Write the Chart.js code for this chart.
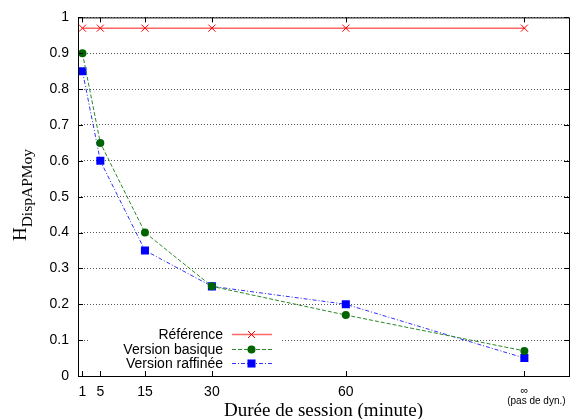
<!DOCTYPE html>
<html>
<head>
<meta charset="utf-8">
<script src="https://cdn.jsdelivr.net/npm/chart.js@4/dist/chart.umd.min.js"></script>
<style>
  html, body { margin: 0; padding: 0; background: #fff; overflow: hidden; }
  #wrap { width: 575px; height: 419px; }
</style>
</head>
<body>
<div id="wrap"><canvas id="chart" width="575" height="419"></canvas></div>
<script>
// session durations (100 stands for "no dynamics", drawn as ∞)
const durations = [1, 5, 15, 30, 60, 100];
const durationLabels = ['1', '5', '15', '30', '60', '∞'];
const reference = [0.97, 0.97, 0.97, 0.97, 0.97, 0.97];
const basique = [0.90, 0.65, 0.40, 0.25, 0.17, 0.07];
const raffinee = [0.85, 0.60, 0.35, 0.25, 0.20, 0.05];
const yTicks = [0, 0.1, 0.2, 0.3, 0.4, 0.5, 0.6, 0.7, 0.8, 0.9, 1];

const SANS = '"Liberation Sans", Arial, sans-serif';
const SERIF = '"Liberation Serif", "Times New Roman", serif';

const COLORS = {
  reference: '#ff0000',
  referenceLine: 'rgba(255, 0, 0, 0.6)',
  basique: '#006400',
  basiqueLine: '#2a882a',
  raffinee: '#0000ff',
  raffineeLine: '#3030ff',
  grid: '#555555',
  frame: '#000000'
};

function points(ys) {
  return durations.map((x, i) => ({ x, y: ys[i] }));
}

// gnuplot style frame with inward ticks on all sides
const framePlugin = {
  id: 'frame',
  afterDraw(chart) {
    const { ctx, chartArea: a, scales } = chart;
    ctx.save();
    ctx.strokeStyle = COLORS.frame;
    ctx.lineWidth = 1;
    ctx.strokeRect(a.left + 0.5, a.top + 0.5, a.right - a.left, a.bottom - a.top);
    ctx.beginPath();
    const len = 5;
    durations.forEach(v => {
      const px = Math.round(scales.x.getPixelForValue(v)) + 0.5;
      ctx.moveTo(px, a.bottom); ctx.lineTo(px, a.bottom - len);
      ctx.moveTo(px, a.top); ctx.lineTo(px, a.top + len);
    });
    yTicks.forEach(v => {
      const py = Math.round(scales.y.getPixelForValue(v)) + 0.5;
      ctx.moveTo(a.left, py); ctx.lineTo(a.left + len, py);
      ctx.moveTo(a.right, py); ctx.lineTo(a.right - len, py);
    });
    ctx.stroke();

    // note under the ∞ tick
    ctx.fillStyle = '#000';
    ctx.font = '10px ' + SANS;
    ctx.textAlign = 'center';
    ctx.textBaseline = 'alphabetic';
    ctx.fillText('(pas de dyn.)', scales.x.getPixelForValue(100) + 12, 404);

    // y title with subscript
    const main = 'H', sub = 'DispAPMoy';
    ctx.font = '19px ' + SERIF;
    const wMain = ctx.measureText(main).width;
    ctx.font = '15.5px ' + SERIF;
    const wSub = ctx.measureText(sub).width;
    ctx.translate(0, 195);
    ctx.rotate(-Math.PI / 2);
    ctx.textAlign = 'left';
    const start = -(wMain + wSub) / 2;
    ctx.font = '19px ' + SERIF;
    ctx.fillText(main, start, 26);
    ctx.font = '15.5px ' + SERIF;
    ctx.fillText(sub, start + wMain, 31.5);
    ctx.restore();
  }
};

// legend box in the lower left corner, text before the sample
const legendPlugin = {
  id: 'boxLegend',
  afterDatasetsDraw(chart) {
    const ctx = chart.ctx;
    const rows = [334, 349, 363];
    ctx.save();
    ctx.fillStyle = '#fff';
    ctx.fillRect(88, 326, 192, 44);
    chart.data.datasets.forEach((ds, i) => {
      const y = rows[i];
      ctx.fillStyle = '#000';
      ctx.font = '14px ' + SANS;
      ctx.textAlign = 'right';
      ctx.textBaseline = 'middle';
      ctx.fillText(ds.label, 223, y + 1);
      ctx.strokeStyle = ds.borderColor;
      ctx.lineWidth = ds.borderWidth;
      ctx.setLineDash(ds.borderDash || []);
      ctx.beginPath();
      ctx.moveTo(232, y + 0.5);
      ctx.lineTo(272, y + 0.5);
      ctx.stroke();
      ctx.setLineDash([]);
      ctx.fillStyle = ds.pointBackgroundColor;
      ctx.strokeStyle = ds.pointBorderColor;
      ctx.lineWidth = ds.pointBorderWidth;
      Chart.helpers.drawPoint(ctx, {
        pointStyle: ds.pointStyle,
        radius: ds.pointRadius,
        rotation: 0,
        borderWidth: ds.pointBorderWidth
      }, 251.5, y + 0.5);
    });
    ctx.restore();
  }
};

new Chart(document.getElementById('chart'), {
  type: 'line',
  data: {
    datasets: [
      {
        label: 'Référence',
        data: points(reference),
        borderColor: COLORS.referenceLine,
        borderWidth: 1.5,
        pointStyle: 'crossRot',
        pointRadius: 5,
        pointBorderWidth: 1,
        pointBackgroundColor: COLORS.reference,
        pointBorderColor: COLORS.reference
      },
      {
        label: 'Version basique',
        data: points(basique),
        borderColor: COLORS.basiqueLine,
        borderWidth: 1,
        borderDash: [4, 2],
        pointStyle: 'circle',
        pointRadius: 4,
        pointBorderWidth: 0,
        pointBackgroundColor: COLORS.basique,
        pointBorderColor: COLORS.basique
      },
      {
        label: 'Version raffinée',
        data: points(raffinee),
        borderColor: COLORS.raffineeLine,
        borderWidth: 1,
        borderDash: [4, 2, 1, 2],
        pointStyle: 'rect',
        pointRadius: 5.7,
        pointBorderWidth: 0,
        pointBackgroundColor: COLORS.raffinee,
        pointBorderColor: COLORS.raffinee
      }
    ]
  },
  options: {
    responsive: false,
    animation: false,
    devicePixelRatio: 1,
    layout: { padding: { left: 0, top: 15, right: 0, bottom: 0 } },
    plugins: { legend: { display: false }, tooltip: { enabled: false } },
    scales: {
      x: {
        type: 'linear',
        min: 0,
        max: 110,
        afterBuildTicks: scale => { scale.ticks = durations.map(v => ({ value: v })); },
        afterFit: scale => { scale.height = 43; },
        grid: { display: false, drawTicks: false },
        border: { display: false },
        ticks: {
          autoSkip: false,
          maxRotation: 0,
          padding: 8,
          color: '#000',
          font: ctx => ({ family: SANS, size: ctx.tick && ctx.tick.value === 100 ? 11 : 14 }),
          callback: v => durationLabels[durations.indexOf(v)]
        },
        title: {
          display: true,
          text: 'Durée de session (minute)',
          color: '#000',
          font: { family: SERIF, size: 19, lineHeight: 1 },
          padding: { top: 0, bottom: -2 }
        }
      },
      y: {
        min: 0,
        max: 1,
        afterBuildTicks: scale => { scale.ticks = yTicks.map(v => ({ value: v })); },
        afterFit: scale => { scale.width = 78; },
        grid: { color: COLORS.grid, lineWidth: 1, drawTicks: false },
        border: { display: false, dash: [1, 2] },
        ticks: {
          padding: 9,
          color: '#000',
          font: { family: SANS, size: 14 },
          callback: v => String(+v.toFixed(1))
        }
      }
    }
  },
  plugins: [legendPlugin, framePlugin]
});
</script>
</body>
</html>
